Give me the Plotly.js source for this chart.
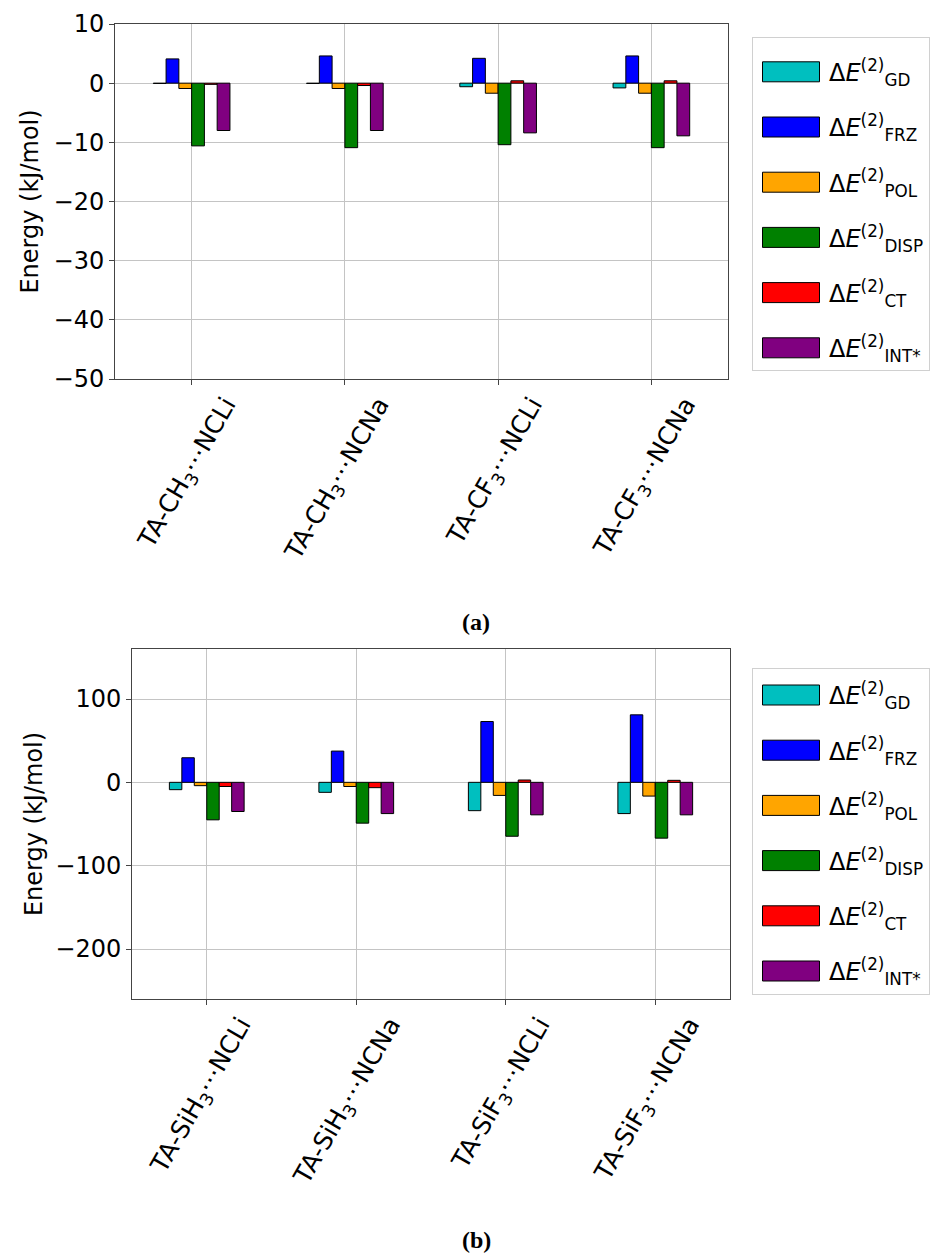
<!DOCTYPE html>
<html>
<head>
<meta charset="utf-8">
<script src="https://cdn.plot.ly/plotly-3.0.1.min.js"></script>
<style>
  html, body { margin: 0; padding: 0; background: #fff; }
  #chart { width: 932px; height: 1256px; }
</style>
</head>
<body>
<div id="chart"></div>
<script>
// ---------- data ----------
const categoriesA = ['TA-CH<sub>3</sub>⋯NCLi', 'TA-CH<sub>3</sub>⋯NCNa', 'TA-CF<sub>3</sub>⋯NCLi', 'TA-CF<sub>3</sub>⋯NCNa'];
const categoriesB = ['TA-SiH<sub>3</sub>⋯NCLi', 'TA-SiH<sub>3</sub>⋯NCNa', 'TA-SiF<sub>3</sub>⋯NCLi', 'TA-SiF<sub>3</sub>⋯NCNa'];

const components = ['GD', 'FRZ', 'POL', 'DISP', 'CT', 'INT*'];

// panel (a), kJ/mol
const gdA   = [-0.05, -0.05, -0.6, -0.8];
const frzA  = [4.1, 4.6, 4.2, 4.6];
const polA  = [-0.9, -0.9, -1.7, -1.7];
const dispA = [-10.6, -10.9, -10.4, -10.9];
const ctA   = [-0.2, -0.4, 0.4, 0.4];
const intA  = [-8.0, -8.0, -8.4, -8.9];

// panel (b), kJ/mol
const gdB   = [-8.8, -12.0, -34.0, -37.5];
const frzB  = [29.5, 37.5, 73.0, 81.0];
const polB  = [-4.0, -5.0, -15.7, -16.5];
const dispB = [-45.0, -49.0, -64.7, -67.0];
const ctB   = [-5.0, -6.4, 2.8, 2.4];
const intB  = [-35.0, -37.5, -39.0, -39.0];

const yTicksA = [-50, -40, -30, -20, -10, 0, 10];
const yTicksB = [-200, -100, 0, 100];

// ---------- styling ----------
const colors = ['#00bfbf', '#0000ff', '#ffa500', '#008000', '#ff0000', '#800080'];
const FONT = 'DejaVu Sans, sans-serif';

const seriesA = [gdA, frzA, polA, dispA, ctA, intA];
const seriesB = [gdB, frzB, polB, dispB, ctB, intB];

function legendName(c) {
  return 'Δ<i>E</i><sup>(2)</sup><sub>' + c + '</sub>';
}

const traces = [];
seriesA.forEach((vals, i) => {
  traces.push({
    type: 'bar', x: categoriesA, y: vals, name: legendName(components[i]),
    xaxis: 'x', yaxis: 'y', legend: 'legend', legendgroup: 'a' + i,
    marker: { color: colors[i], line: { color: '#000', width: 1 } },
    hoverinfo: 'skip'
  });
});
seriesB.forEach((vals, i) => {
  traces.push({
    type: 'bar', x: categoriesB, y: vals, name: legendName(components[i]),
    xaxis: 'x2', yaxis: 'y2', legend: 'legend2', legendgroup: 'b' + i,
    marker: { color: colors[i], line: { color: '#000', width: 1 } },
    hoverinfo: 'skip'
  });
});

const W = 932, H = 1256;
function px(x) { return x / W; }
function py(y) { return 1 - y / H; }

const commonX = {
  type: 'category', range: [-0.5, 3.5], tickangle: -60,
  showgrid: true, gridcolor: '#c4c4c4', gridwidth: 1,
  showline: true, mirror: true, linecolor: '#444', linewidth: 1,
  ticks: 'outside', ticklen: 5, tickcolor: '#444',
  tickfont: { family: FONT, size: 25, color: '#000' },
  ticklabelshift: 34, ticklabelstandoff: -5,
  automargin: false, fixedrange: true
};
const commonY = {
  showgrid: true, gridcolor: '#c4c4c4', gridwidth: 1, zeroline: false,
  showline: true, mirror: true, linecolor: '#444', linewidth: 1,
  ticks: 'outside', ticklen: 5, tickcolor: '#444',
  tickfont: { family: FONT, size: 24, color: '#000' },
  automargin: false, fixedrange: true
};

const legendCommon = {
  xanchor: 'left', yanchor: 'top',
  bgcolor: '#fff', bordercolor: '#d0d0d0', borderwidth: 1,
  font: { family: FONT, size: 24, color: '#000' },
  traceorder: 'grouped', tracegroupgap: 21, itemwidth: 66,
  itemclick: false, itemdoubleclick: false
};

const layout = {
  width: W, height: H,
  margin: { l: 0, r: 0, t: 0, b: 0 },
  paper_bgcolor: '#fff', plot_bgcolor: '#fff',
  barmode: 'group', bargap: 0.5, bargroupgap: 0,
  font: { family: FONT, size: 24, color: '#000' },
  xaxis: Object.assign({}, commonX, { domain: [px(115), px(728)], anchor: 'y' }),
  yaxis: Object.assign({}, commonY, {
    domain: [py(379), py(24)], anchor: 'x', range: [-50, 10], tickvals: yTicksA,
    title: { text: 'Energy (kJ/mol)', font: { family: FONT, size: 24, color: '#000' }, standoff: 8 }
  }),
  xaxis2: Object.assign({}, commonX, { domain: [px(132), px(730)], anchor: 'y2' }),
  yaxis2: Object.assign({}, commonY, {
    domain: [py(999), py(649)], anchor: 'x2', range: [-260, 160], tickvals: yTicksB,
    title: { text: 'Energy (kJ/mol)', font: { family: FONT, size: 24, color: '#000' }, standoff: 5 }
  }),
  legend: Object.assign({}, legendCommon, { x: px(752), y: py(37), title: { text: ' ', font: { size: 9 } } }),
  legend2: Object.assign({}, legendCommon, { x: px(752), y: py(668), title: { text: ' ', font: { size: 3 } } }),
  annotations: [
    { text: '<b>(a)</b>', xref: 'paper', yref: 'paper', x: px(476), y: py(622),
      xanchor: 'center', yanchor: 'middle', showarrow: false,
      font: { family: 'Liberation Serif, serif', size: 24, color: '#000' } },
    { text: '<b>(b)</b>', xref: 'paper', yref: 'paper', x: px(476), y: py(1240),
      xanchor: 'center', yanchor: 'middle', showarrow: false,
      font: { family: 'Liberation Serif, serif', size: 24, color: '#000' } }
  ]
};

Plotly.newPlot('chart', traces, layout, { displayModeBar: false, staticPlot: true }).then(() => {
  // widen the legend swatches to match the wide rectangular patches
  document.querySelectorAll('path.legendbar, .legendpoints path').forEach(p => {
    p.setAttribute('d', 'M28.5,10H-28.5V-10H28.5Z');
    p.setAttribute('transform', 'translate(38,0)');
  });
});
</script>
</body>
</html>
